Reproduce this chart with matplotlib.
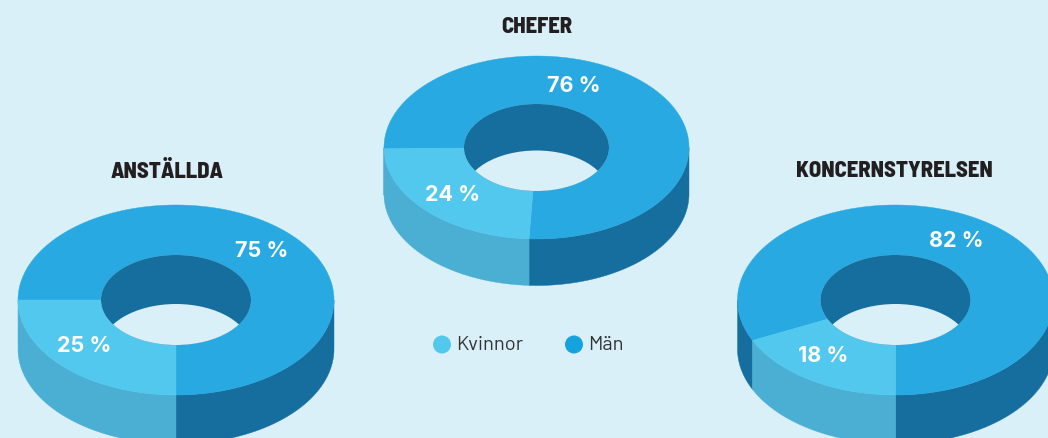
import numpy as np
import matplotlib
matplotlib.use("Agg")
import matplotlib.pyplot as plt
from matplotlib.patches import Polygon, Ellipse, Circle
import matplotlib.patheffects as pe

titles = ["ANSTÄLLDA", "CHEFER", "KONCERNSTYRELSEN"]
women = [25, 24, 18]
men = [75, 76, 82]
legend_names = ["Kvinnor", "Män"]

BG = "#D9F0F9"
TOP_M, TOP_W = "#29A9E1", "#52C8EF"
WALL_M, WALL_W = "#166E9E", "#4AAFD2"
LEG_M = "#14A3DE"

# cx, cy, rx, ry, inner rx, inner ry, depth, rotation of the split
geoms = [(176, 300, 158, 95, 75, 45, 49, 270),
         (536.5, 147.5, 152.5, 91.5, 72.5, 43.5, 46.5, 267.2),
         (895.5, 300, 158, 95, 75, 45, 49, 270)]
title_pos = [(167, 171), (537, 27), (894, 171)]
label_w = [(84, 346), (453, 195), (823, 356)]
label_m = [(262, 251), (574, 86), (956, 241)]

fig = plt.figure(figsize=(10.48, 4.38), dpi=100, facecolor=BG)
ax = fig.add_axes([0, 0, 1, 1])
ax.set_xlim(0, 1048)
ax.set_ylim(438, 0)
ax.axis("off")


def arc(cx, cy, rx, ry, a, b):
    t = np.radians(np.linspace(a, b, max(int(abs(b - a)) * 2, 2) + 1))
    return np.column_stack([cx + rx * np.cos(t), cy - ry * np.sin(t)])


def wall(g, a, b, color, z):
    cx, cy, rx, ry, _, _, d, _ = g
    for lo, hi in [(180, 360), (540, 720)]:
        s, e = max(a, lo), min(b, hi)
        if e > s:
            p = arc(cx, cy, rx, ry, s, e)
            q = (p + [0, d])[::-1]
            ax.add_patch(Polygon(np.vstack([p, q]), fc=color, ec=color, lw=0.3, zorder=z))


def sector(g, a, b, color, z):
    cx, cy, rx, ry, ix, iy, _, _ = g
    p = arc(cx, cy, rx, ry, a, b)
    q = arc(cx, cy, ix, iy, a, b)[::-1]
    ax.add_patch(Polygon(np.vstack([p, q]), fc=color, ec=color, lw=0.3, zorder=z))


for i, g in enumerate(geoms):
    cx, cy, rx, ry, ix, iy, d, s = g
    a_w, b_w = s - women[i] * 3.6, s
    a_m, b_m = s, s + men[i] * 3.6
    wall(g, a_m, b_m, WALL_M, 2)
    wall(g, a_w, b_w, WALL_W, 2)
    sector(g, a_m, b_m, TOP_M, 3)
    sector(g, a_w, b_w, TOP_W, 4)
    inner = Ellipse((cx, cy), 2 * ix, 2 * iy, fc=WALL_M, ec="none", zorder=5)
    ax.add_patch(inner)
    hole = Ellipse((cx, cy + d), 2 * ix, 2 * iy, fc=BG, ec="none", zorder=6)
    ax.add_patch(hole)
    hole.set_clip_path(inner)

    ax.text(*title_pos[i], titles[i], ha="center", va="center", color="#231F20",
            family=["Barlow Semi Condensed", "Liberation Sans"], weight=800, fontsize=16.2,
            zorder=8)
    ax.text(*label_w[i], f"{women[i]} %", ha="center", va="center", color="white",
            family="Inter", weight="bold", fontsize=15.5, zorder=8)
    ax.text(*label_m[i], f"{men[i]} %", ha="center", va="center", color="white",
            family="Inter", weight="bold", fontsize=15.5, zorder=8)

for x, tx, name, col in [(442, 456, legend_names[0], TOP_W), (574, 588, legend_names[1], LEG_M)]:
    ax.add_patch(Circle((x, 344.5), 9, fc=col, ec="none", zorder=8))
    ax.text(tx, 345, name, ha="left", va="center", color="#333336",
            family=["Barlow", "Roboto"], fontsize=14.5, zorder=8)

fig.savefig("out.png", dpi=100, facecolor=BG)
